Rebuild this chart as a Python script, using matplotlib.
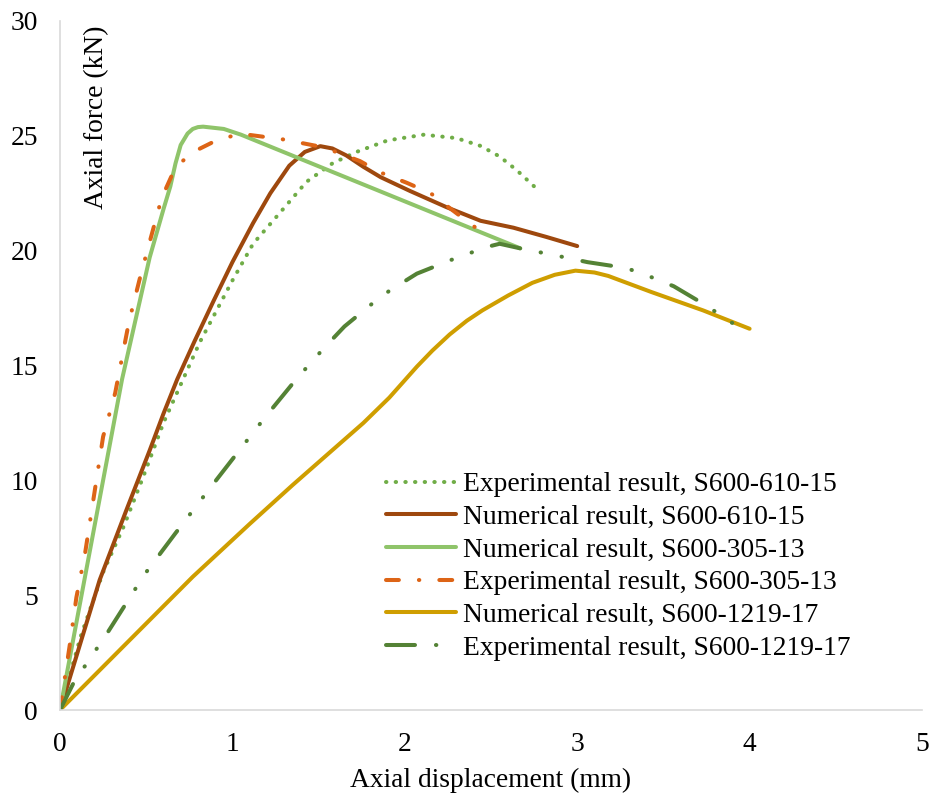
import matplotlib
matplotlib.use("Agg")
import matplotlib.pyplot as plt

plt.rcParams['font.family'] = ['Liberation Serif', 'DejaVu Serif']

# ---- data ----
exp610_x = [0, 0.06, 0.12, 0.25, 0.37, 0.48, 0.60, 0.81, 1.0, 1.12, 1.27, 1.43, 1.58, 1.72, 1.9, 2.11, 2.3, 2.44, 2.55, 2.65, 2.75]
exp610_y = [0, 1.6, 3.2, 6.0, 8.0, 10.1, 12.5, 16.0, 18.7, 20.3, 21.6, 23.0, 23.8, 24.3, 24.8, 25.05, 24.9, 24.56, 24.1, 23.5, 22.8]

num610_x = [0, 0.23, 0.39, 0.52, 0.60, 0.68, 0.78, 0.89, 1.0, 1.12, 1.22, 1.33, 1.42, 1.51, 1.58, 1.66, 1.76, 1.86, 2.03, 2.24, 2.44, 2.63, 2.82, 3.0]
num610_y = [0, 5.66, 8.8, 11.3, 12.9, 14.4, 16.05, 17.8, 19.5, 21.2, 22.5, 23.7, 24.3, 24.55, 24.45, 24.15, 23.65, 23.2, 22.6, 21.9, 21.3, 21.0, 20.6, 20.2]

num305_x = [0, 0.145, 0.36, 0.52, 0.60, 0.64, 0.67, 0.70, 0.74, 0.77, 0.80, 0.83, 0.95, 1.05, 2.67]
num305_y = [0, 5.8, 14.4, 19.7, 21.8, 22.8, 23.8, 24.6, 25.1, 25.3, 25.38, 25.4, 25.3, 25.05, 20.1]

exp305_x = [0, 0.03, 0.06, 0.095, 0.145, 0.25, 0.32, 0.4, 0.47, 0.59, 0.65, 0.71, 0.80, 0.88, 1.04, 1.29, 1.53, 1.74, 1.86, 2.01, 2.15, 2.27, 2.42]
exp305_y = [0, 1.5, 3.0, 4.9, 6.8, 11.9, 13.8, 16.9, 19.0, 22.3, 23.3, 23.9, 24.4, 24.7, 25.1, 24.85, 24.5, 23.9, 23.4, 22.96, 22.5, 21.8, 20.95]

num1219_x = [0, 0.77, 1.10, 1.35, 1.57, 1.76, 1.91, 2.07, 2.16, 2.26, 2.36, 2.45, 2.6, 2.74, 2.87, 2.99, 3.1, 3.18, 3.43, 3.73, 4.0]
num1219_y = [0, 5.8, 8.1, 9.8, 11.25, 12.5, 13.6, 14.95, 15.65, 16.35, 16.95, 17.4, 18.05, 18.6, 18.95, 19.13, 19.05, 18.9, 18.2, 17.4, 16.6]

exp1219_x = [0, 0.08, 0.27, 0.49, 0.67, 0.87, 1.05, 1.19, 1.37, 1.53, 1.65, 1.82, 1.91, 2.07, 2.27, 2.38, 2.47, 2.55, 2.67, 2.87, 3.06, 3.28, 3.38, 3.56, 3.74, 3.93]
exp1219_y = [0, 1.2, 3.3, 5.9, 7.7, 9.66, 11.4, 12.75, 14.4, 15.75, 16.7, 17.75, 18.25, 19.0, 19.6, 19.9, 20.15, 20.3, 20.1, 19.8, 19.5, 19.25, 19.0, 18.45, 17.65, 16.7]

labels = ["Experimental result, S600-610-15",
          "Numerical result, S600-610-15",
          "Numerical result, S600-305-13",
          "Experimental result, S600-305-13",
          "Numerical result, S600-1219-17",
          "Experimental result, S600-1219-17"]

x_ticks = [0, 1, 2, 3, 4, 5]
y_ticks = [0, 5, 10, 15, 20, 25, 30]

# ---- figure ----
W, H = 935, 798
fig = plt.figure(figsize=(W / 100, H / 100), dpi=100)
ax = fig.add_axes([60 / W, (H - 710) / H, 862 / W, 689 / H])

lw = 2.9
kw = dict(lw=lw, solid_capstyle='round', dash_capstyle='round', solid_joinstyle='round')
ax.plot(exp610_x, exp610_y, color='#70AD47', dashes=(0.1, 2.3), label=labels[0], **kw)
ax.plot(num610_x, num610_y, color='#9E480E', label=labels[1], **kw)
ax.plot(num305_x, num305_y, color='#8FC46A', label=labels[2], **kw)
ax.plot(exp305_x, exp305_y, color='#DD6416', dashes=(3.2, 4.97, 0.1, 4.97), label=labels[3], **kw)
ax.plot(num1219_x, num1219_y, color='#CF9E00', label=labels[4], **kw)
ax.plot(exp1219_x, exp1219_y, color='#548235', dashes=(7.2, 5.2, 0.1, 5.2, 0.1, 5.2), label=labels[5], **kw)

ax.set_xlim(0, 5)
ax.set_ylim(0, 30)
ax.set_xticks(x_ticks)
ax.set_yticks(y_ticks)
ax.tick_params(length=0, labelsize=19.8, pad=16, colors='black')

for s in ['top', 'right']:
    ax.spines[s].set_visible(False)
for s in ['left', 'bottom']:
    ax.spines[s].set_color('#D9D9D9')
    ax.spines[s].set_linewidth(1.2)

ax.set_xlabel("Axial displacement (mm)", fontsize=19.8, labelpad=8)
ax.text((97 - 60) / 862, (710 - 117) / 689, "Axial force (kN)", rotation=90,
        ha='center', va='center', fontsize=19.8, transform=ax.transAxes)

leg = ax.legend(loc='upper left', bbox_to_anchor=(386 / W, 1 - 472 / H),
                bbox_transform=fig.transFigure, frameon=False, fontsize=19.8,
                handlelength=2.55, handletextpad=0.25, labelspacing=0.27,
                borderpad=0, borderaxespad=0)

fig.savefig("out.png", dpi=100)
